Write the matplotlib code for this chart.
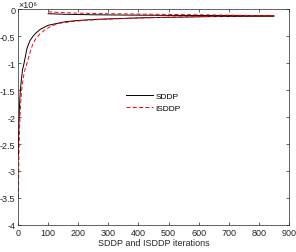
import matplotlib
matplotlib.use("Agg")
import matplotlib.pyplot as plt
from matplotlib.ticker import FuncFormatter

plt.rcParams['font.family'] = ['Liberation Sans', 'DejaVu Sans']

# Lower bounds (values in units of 1e6)
sddp_lb_it = [1, 2, 4, 7, 11, 15, 20, 30, 40, 50, 60, 75, 100, 125, 155, 200, 260, 330, 420, 520, 620, 720, 850]
sddp_lb = [-2.7, -2.3, -1.9, -1.55, -1.3, -1.12, -1.0, -0.72, -0.58, -0.5, -0.44, -0.37, -0.30,
           -0.27, -0.235, -0.21, -0.19, -0.175, -0.16, -0.15, -0.14, -0.135, -0.13]
isddp_lb_it = [1, 2, 3, 5, 8, 12, 18, 24, 30, 40, 50, 60, 73, 90, 112, 140, 180, 230, 300, 400, 500, 600, 700, 850]
isddp_lb = [-3.5, -3.1, -2.7, -2.2, -1.8, -1.5, -1.25, -1.1, -1.0, -0.8, -0.63, -0.54, -0.46, -0.38,
            -0.31, -0.26, -0.23, -0.205, -0.185, -0.165, -0.15, -0.14, -0.133, -0.13]
# Upper bounds
sddp_ub_it = [100, 150, 250, 400, 550, 700, 850]
sddp_ub = [-0.085, -0.095, -0.105, -0.112, -0.117, -0.12, -0.125]
isddp_ub_it = [100, 130, 200, 300, 450, 600, 750, 850]
isddp_ub = [-0.05, -0.06, -0.075, -0.085, -0.095, -0.105, -0.115, -0.12]

x_ticks = [0, 100, 200, 300, 400, 500, 600, 700, 800, 900]
y_ticks = [-4e6, -3.5e6, -3e6, -2.5e6, -2e6, -1.5e6, -1e6, -0.5e6, 0]

scale = 1e6
fig = plt.figure(figsize=(2.96, 2.53), dpi=100)
ax = fig.add_axes([0.061, 0.107, 0.915, 0.853])

ax.plot(sddp_lb_it, [v * scale for v in sddp_lb], color='black', lw=0.7, label='SDDP')
ax.plot(isddp_lb_it, [v * scale for v in isddp_lb], color='red', lw=0.7, ls=(0, (4, 2.5)), label='ISDDP')
ax.plot(sddp_ub_it, [v * scale for v in sddp_ub], color='black', lw=0.7)
ax.plot(isddp_ub_it, [v * scale for v in isddp_ub], color='red', lw=0.7, ls=(0, (4, 2.5)))

ax.set_xlim(0, 900)
ax.set_ylim(-4e6, 0)
ax.set_xticks(x_ticks)
ax.set_yticks(y_ticks)
ax.yaxis.set_major_formatter(FuncFormatter(lambda v, p: '%g' % (v / scale)))
ax.text(0.0, 1.0, '×10⁶', transform=ax.transAxes, fontsize=6.5,
        color='#262626', ha='left', va='bottom')

ax.tick_params(direction='in', top=True, right=True, labelsize=6.5, length=2.5, width=0.5,
               colors='#262626', pad=2)
for s in ax.spines.values():
    s.set_linewidth(0.5)
    s.set_color('#262626')

ax.set_xlabel('SDDP and ISDDP iterations', fontsize=6.5, color='#262626', labelpad=1)
ax.legend(loc='center', bbox_to_anchor=(0.5, 0.57), frameon=False, fontsize=6,
          handlelength=3.2, handletextpad=0.3, labelspacing=0.5)

fig.savefig('out.png', dpi=100)
